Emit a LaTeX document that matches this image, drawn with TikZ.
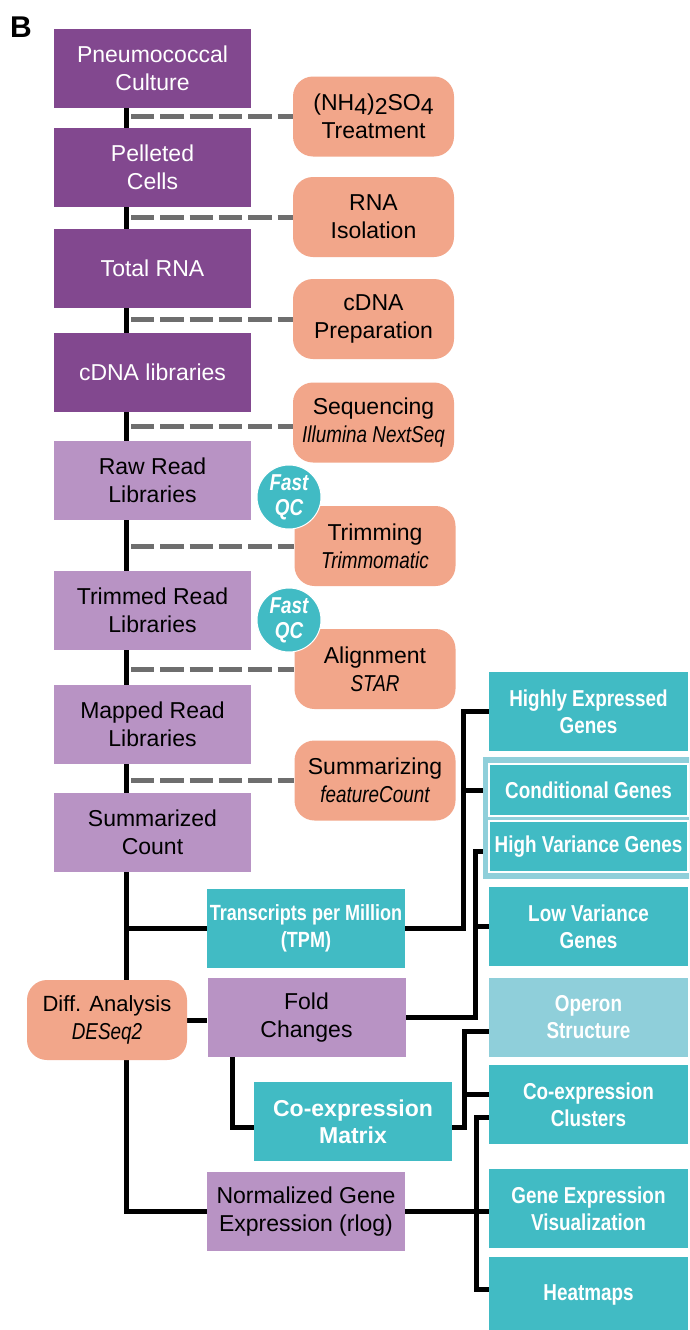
\documentclass[tikz,border=0pt]{standalone}
\usepackage{fontspec}
\setmainfont{Liberation Sans}
\newfontfamily\narrowfont[FakeStretch=0.82]{Liberation Sans}
\definecolor{dpurp}{HTML}{82488F}
\definecolor{lpurp}{HTML}{B893C4}
\definecolor{tealc}{HTML}{41BBC4}
\definecolor{lteal}{HTML}{8FCFDA}
\definecolor{salm}{HTML}{F2A68A}
\definecolor{dgrey}{HTML}{6E6E6E}
\pgfdeclarelayer{back}
\pgfdeclarelayer{wires}
\pgfsetlayers{back,wires,main}
\newcommand\subt[1]{{\narrowfont\itshape\fontsize{23}{28}\selectfont #1}}
\newcommand\low[1]{\raisebox{-4pt}{#1}}
\tikzset{
  base/.style={inner sep=0pt, align=center, minimum height=79pt},
  pbox/.style={base, fill=dpurp, text=white, minimum width=197pt, font=\fontsize{23}{28}\selectfont},
  lpbox/.style={base, fill=lpurp, text=black, minimum width=197pt, font=\fontsize{23}{28}\selectfont},
  sbox/.style={base, fill=salm, text=black, rounded corners=20pt, minimum width=161pt, minimum height=80pt, font=\fontsize{23}{28}\selectfont},
  tbox/.style={base, fill=tealc, text=white, minimum width=198pt, font=\narrowfont\bfseries\fontsize{23}{27}\selectfont},
  ltbox/.style={tbox, fill=lteal},
  conn/.style={line width=5pt, black, line join=miter},
  dline/.style={line width=5pt, dgrey, dash pattern=on 23.3pt off 6pt},
  qc/.style={circle, fill=tealc, draw=white, line width=1pt, minimum size=64pt, inner sep=0pt, text=white, align=center, font=\narrowfont\bfseries\itshape\fontsize{23}{25}\selectfont}
}
\begin{document}
\begin{tikzpicture}[x=1pt, y=-1pt]
\clip (0,0) rectangle (689,1330);
\begin{pgfonlayer}{back}
\fill[white] (0,0) rectangle (689,1330);
\end{pgfonlayer}

\node[font=\bfseries\fontsize{30}{30}\selectfont] (lab) at (21,27) {B};

% coordinates for vertical connector lines
\coordinate (sp) at (126,0);
\coordinate (v1) at (463,0);
\coordinate (v2) at (475,0);
\coordinate (v3) at (464,0);
\coordinate (v4) at (476,0);
\coordinate (vf) at (232,0);
\coordinate (dx) at (131,0);

% left column
\node[pbox] (cult) at (152.5,68.5) {Pneumococcal\\Culture};
\node[pbox] (pell) at (152.5,167.5) {Pelleted\\Cells};
\node[pbox] (trna) at (152.5,268) {Total RNA};
\node[pbox] (cdna) at (152.5,372) {cDNA libraries};
\node[lpbox] (raw) at (152.5,480) {Raw Read\\Libraries};
\node[lpbox] (trim) at (152.5,610) {Trimmed Read\\Libraries};
\node[lpbox] (mapp) at (152.5,724.5) {Mapped Read\\Libraries};
\node[lpbox] (summ) at (152.5,832.5) {Summarized\\Count};

% salmon process boxes
\node[sbox] (treat) at (373.5,116.5) {(NH\low{4})\low{2}SO\low{4}\\Treatment};
\node[sbox] (rnaiso) at (373.5,217) {RNA\\Isolation};
\node[sbox] (cdnap) at (373.5,319) {cDNA\\Preparation};
\node[sbox] (seq) at (373.5,422.5) {Sequencing\\\subt{Illumina NextSeq}};
\node[sbox] (trimm) at (375,546) {Trimming\\\subt{Trimmomatic}};
\node[sbox] (align) at (375,669) {Alignment\\\subt{STAR}};
\node[sbox] (summz) at (375,780.5) {Summarizing\\\subt{featureCount}};

% FastQC circles
\node[qc] (qc1) at (289,497) {Fast\\QC};
\node[qc] (qc2) at (289,620) {Fast\\QC};

% middle
\node[tbox, font=\narrowfont\bfseries\fontsize{22}{27}\selectfont] (tpm) at (306,928.5) {Transcripts per Million\\(TPM)};
\node[lpbox, minimum width=198pt] (fold) at (306.5,1017.5) {Fold\\Changes};
\node[tbox, font=\bfseries\fontsize{23}{27}\selectfont] (cem) at (353,1121.5) {Co-expression\\Matrix};
\node[lpbox, minimum width=198pt] (norm) at (306,1211.5) {Normalized Gene\\Expression (rlog)};
\node[sbox, minimum width=160pt, font=\fontsize{22}{28}\selectfont] (diff) at (107,1020) {Diff. Analysis\\\subt{DESeq2}};

% right column
\node[tbox, minimum width=199pt] (hi) at (588.5,711.5) {Highly Expressed\\Genes};
\node[fill=lteal, minimum width=207pt, minimum height=122pt, inner sep=0pt] (grp) at (586.5,818) {};
\node[tbox, minimum width=199pt, minimum height=52pt, draw=white, line width=1.5pt] (cond) at (588.5,790) {Conditional Genes};
\node[tbox, minimum width=199pt, minimum height=51pt, draw=white, line width=1.5pt] (hv) at (588.5,846.5) {High Variance Genes};
\node[tbox, minimum width=199pt] (low) at (588.5,926.5) {Low Variance\\Genes};
\node[ltbox, minimum width=199pt] (oper) at (588.5,1017.5) {Operon\\Structure};
\node[tbox, minimum width=199pt] (clus) at (588.5,1104.5) {Co-expression\\Clusters};
\node[tbox, minimum width=199pt] (gev) at (588.5,1208.5) {Gene Expression\\Visualization};
\node[tbox, minimum width=199pt] (heat) at (588.5,1296.5) {\raisebox{7pt}{Heatmaps}};

% shifted connection points
\coordinate (cemL) at ([yshift=-5.5pt]cem.west);
\coordinate (cemR) at ([yshift=-5.5pt]cem.east);
\coordinate (hvIn) at ([yshift=-4.5pt]hv.west);
\coordinate (operIn) at ([yshift=-13.5pt]oper.west);
\coordinate (clusA) at ([yshift=10.5pt]clus.west);
\coordinate (clusB) at ([yshift=-12.5pt]clus.west);
\coordinate (heatIn) at ([yshift=7.5pt]heat.west);
\coordinate (seqL) at ([yshift=-3.5pt]seq.west);

\begin{pgfonlayer}{wires}
% main spine
\draw[conn] (sp |- cult.south) -- (sp |- norm.west) -- (norm.west);
\draw[conn] (sp |- tpm.west) -- (tpm.west);
\draw[conn] (diff.east) -- (diff.east -| fold.west);
% dashed process links
\draw[dline] (dx |- treat.west) -- (treat.west);
\draw[dline] (dx |- rnaiso.west) -- (rnaiso.west);
\draw[dline] (dx |- cdnap.west) -- (cdnap.west);
\draw[dline] (dx |- seqL) -- (seqL);
\draw[dline] (dx |- trimm.west) -- (trimm.west);
\draw[dline] (dx |- align.west) -- (align.west);
\draw[dline] (dx |- summz.west) -- (summz.west);
% TPM
\draw[conn] (tpm.east) -- (v1 |- tpm.east) -- (v1 |- hi.west) -- (hi.west);
\draw[conn] (v1 |- cond.west) -- (cond.west);
% Fold changes
\draw[conn] (fold.east) -- (v2 |- fold.east) -- (v2 |- hvIn) -- (hvIn);
\draw[conn] (v2 |- low.west) -- (low.west);
\draw[conn] (vf |- fold.south) -- (vf |- cemL) -- (cemL);
% Co-expression matrix
\draw[conn] (cemR) -- (v3 |- cemR) -- (v3 |- operIn) -- (operIn);
\draw[conn] (v3 |- clusA) -- (clusA);
% Normalized
\draw[conn] (norm.east) -- (norm.east -| gev.west);
\draw[conn] (clusB) -- (v4 |- clusB) -- (v4 |- heatIn) -- (heatIn);
\end{pgfonlayer}

\end{tikzpicture}
\end{document}
